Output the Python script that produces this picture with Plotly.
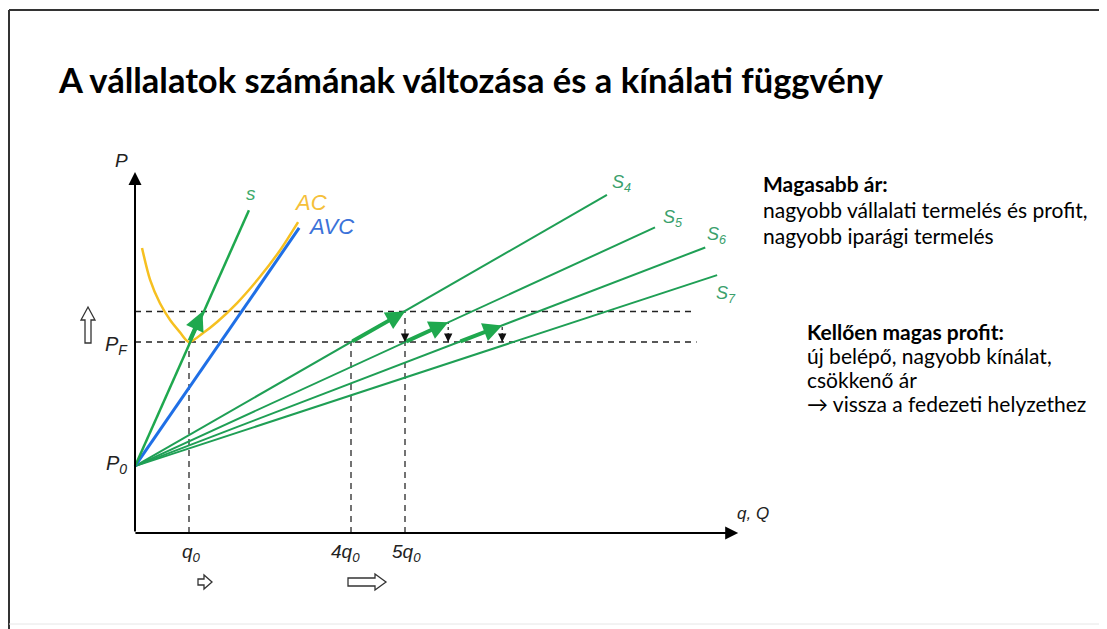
import plotly.graph_objects as go

W, H = 1107, 629
OFF = 8  # page body margin offset of the figure in the window

# ---------------- data (q in units of q0, P in price units) ----------------
P0 = 3.5          # price where supply curves start
PF = 10.0         # break-even price (min AC)
P1 = 11.6         # higher price

q_ticks = [1, 4, 5]
q_tick_labels = ["q<sub>0</sub>", "4q<sub>0</sub>", "5q<sub>0</sub>"]

s_q = [0, 2.11]
s_P = [3.5, 16.9]

avc_q = [0, 3.04]
avc_P = [3.5, 15.97]

ac_q = [0.13, 0.28, 0.46, 0.65, 0.83, 1.0, 1.26, 1.52, 1.89, 2.31, 2.69, 3.02]
ac_P = [14.92, 13.25, 12.04, 11.15, 10.52, 10.0, 10.47, 11.05, 12.04, 13.40, 14.82, 16.28]

S_labels = ["S<sub>4</sub>", "S<sub>5</sub>", "S<sub>6</sub>", "S<sub>7</sub>"]
S_end_q = [8.74, 9.63, 10.56, 10.78]
S_end_P = [17.70, 16.0, 14.95, 13.5]

move_from_q = [1, 4, 5, 6]
move_from_P = [10.0, 10.0, 10.0, 10.0]
move_to_q = [1.25, 5.0, 5.8, 6.8]
move_to_P = [11.6, 11.6, 11.04, 10.87]

drop_q = [5.8, 6.8]
drop_P = [11.04, 10.87]

hline_P = [PF, P1]
hline_end_q = [10.4, 10.33]
vline_q = [1, 4, 5]
vline_top_P = [PF, PF, P1]

axis_q_max = 11.17
axis_P_max = 18.9

# ---------------- colours ----------------
GREEN = "#1f9f55"
GREEN_S = "#1fa84e"
BLUE = "#1f6fe6"
YELLOW = "#f6c020"

# screen pixel -> paper helpers (for decorations / text only)
def px(x):
    return (x - OFF) / W

def py(y):
    return 1 - (y - OFF) / H

fig = go.Figure()

# dashed guide lines
for P, qe in zip(hline_P, hline_end_q):
    fig.add_trace(go.Scatter(x=[0, qe], y=[P, P], mode="lines",
                             line=dict(color="#222222", width=1.5, dash="6px,5px"),
                             hoverinfo="skip", showlegend=False))
for q, Pt in zip(vline_q, vline_top_P):
    fig.add_trace(go.Scatter(x=[q, q], y=[0, Pt], mode="lines",
                             line=dict(color="#444444", width=1.5, dash="6px,5px"),
                             hoverinfo="skip", showlegend=False))
for q, Pt in zip(drop_q, drop_P):
    fig.add_trace(go.Scatter(x=[q, q], y=[PF, Pt], mode="lines",
                             line=dict(color="#222222", width=1.2, dash="3px,3px"),
                             hoverinfo="skip", showlegend=False))

# market supply curves
for qe, Pe in zip(S_end_q, S_end_P):
    fig.add_trace(go.Scatter(x=[0, qe], y=[P0, Pe], mode="lines",
                             line=dict(color=GREEN, width=2),
                             hoverinfo="skip", showlegend=False))

# AC, AVC, s
fig.add_trace(go.Scatter(x=ac_q, y=ac_P, mode="lines",
                         line=dict(color=YELLOW, width=2.5, shape="spline", smoothing=0.8),
                         hoverinfo="skip", showlegend=False))
fig.add_trace(go.Scatter(x=avc_q, y=avc_P, mode="lines",
                         line=dict(color=BLUE, width=3),
                         hoverinfo="skip", showlegend=False))
fig.add_trace(go.Scatter(x=s_q, y=s_P, mode="lines",
                         line=dict(color=GREEN_S, width=2.5),
                         hoverinfo="skip", showlegend=False))

annotations = []

# axes as arrows
annotations.append(dict(x=0, y=axis_P_max, ax=0, ay=0, xref="x", yref="y", axref="x", ayref="y",
                        text="", showarrow=True, arrowhead=2, arrowsize=1.3, arrowwidth=2,
                        arrowcolor="#000000", standoff=0, startstandoff=0))
annotations.append(dict(x=axis_q_max, y=0, ax=-0.02, ay=0, xref="x", yref="y", axref="x", ayref="y",
                        text="", showarrow=True, arrowhead=2, arrowsize=1.3, arrowwidth=2,
                        arrowcolor="#000000", standoff=0, startstandoff=0))

# green movement arrows
for q0_, p0_, q1_, p1_ in zip(move_from_q, move_from_P, move_to_q, move_to_P):
    annotations.append(dict(x=q1_, y=p1_, ax=q0_, ay=p0_, xref="x", yref="y", axref="x", ayref="y",
                            text="", showarrow=True, arrowhead=2, arrowsize=0.95, arrowwidth=4,
                            arrowcolor=GREEN_S, standoff=0))

# small downward arrowheads at PF
for q in [5] + drop_q:
    annotations.append(dict(x=q, y=PF, ax=q, ay=PF + 0.45, xref="x", yref="y", axref="x", ayref="y",
                            text="", showarrow=True, arrowhead=2, arrowsize=1.4, arrowwidth=1.2,
                            arrowcolor="#111111", standoff=0))

DIAG_FONT = "Liberation Sans, Arial, sans-serif"

def label(x, y, text, size, color="#222222", xanchor="center", font=DIAG_FONT):
    annotations.append(dict(x=px(x), y=py(y), xref="paper", yref="paper", text=text,
                            showarrow=False, xanchor=xanchor, yanchor="middle",
                            font=dict(family=font, size=size, color=color)))

# axis labels
label(121, 160, "<i>P</i>", 19)
label(753, 513, "<i>q, Q</i>", 17)
label(116, 345, "<i>P<sub>F</sub></i>", 20)
label(116, 464, "<i>P<sub>0</sub></i>", 20)
for q, t in zip(q_ticks, q_tick_labels):
    annotations.append(dict(x=q, y=py(553), xref="x", yref="paper", text="<i>" + t + "</i>",
                            showarrow=False, xanchor="center", yanchor="middle",
                            xshift=-6 if q == 4 else (2 if q == 1 else 1),
                            font=dict(family=DIAG_FONT, size=19, color="#222222")))

# curve labels
label(251, 194, "<i>s</i>", 19, "#3daa6a")
label(310, 202, "<i>AC</i>", 22, "#f5c03a")
label(331, 226, "<i>AVC</i>", 22, "#3b72d9")
for (x, y), t in zip([(621, 184), (673, 219), (716, 235), (726, 294)], S_labels):
    label(x, y, "<i>" + t + "</i>", 18, "#3a9f6c")

# title
TXT = "Lato, Calibri, sans-serif"
label(56, 79, "<b>A vállalatok számának változása és a kínálati függvény</b>", 34.5, "#000000",
      xanchor="left", font=TXT)

# right text
label(761, 184, "<b>Magasabb ár:</b>", 21, "#000000", "left", TXT)
label(761, 209, "nagyobb vállalati termelés és profit,", 21, "#000000", "left", TXT)
label(761, 235, "nagyobb iparági termelés", 21, "#000000", "left", TXT)
label(805, 331, "<b>Kellően magas profit:</b>", 21, "#000000", "left", TXT)
label(805, 355, "új belépő, nagyobb kínálat,", 21, "#000000", "left", TXT)
label(805, 379, "csökkenő ár", 21, "#000000", "left", TXT)
label(805, 403, "→ vissza a fedezeti helyzethez", 21, "#000000", "left", TXT)

# decorative shapes: slide frame and hollow arrows
shapes = []
shapes.append(dict(type="line", xref="paper", yref="paper", x0=px(9), y0=py(10), x1=1, y1=py(10),
                   line=dict(color="#333333", width=2)))
shapes.append(dict(type="line", xref="paper", yref="paper", x0=px(9), y0=py(10), x1=px(9), y1=0,
                   line=dict(color="#333333", width=2)))
shapes.append(dict(type="line", xref="paper", yref="paper", x0=px(9), y0=py(624), x1=1, y1=py(624),
                   line=dict(color="#e6e6e6", width=1)))

def poly(points):
    return "M " + " L ".join(f"{px(x):.5f},{py(y):.5f}" for x, y in points) + " Z"

# up hollow arrow
shapes.append(dict(type="path", xref="paper", yref="paper", line=dict(color="#333333", width=1.3),
                   path=poly([(85, 343), (85, 320), (81, 320), (88, 307), (95, 320), (91, 320), (91, 343)])))
# small right hollow arrow
shapes.append(dict(type="path", xref="paper", yref="paper", line=dict(color="#333333", width=1.3),
                   path=poly([(198, 579), (204, 579), (204, 575), (212, 582), (204, 589), (204, 585), (198, 585)])))
# large right hollow arrow
shapes.append(dict(type="path", xref="paper", yref="paper", line=dict(color="#333333", width=1.3),
                   path=poly([(348, 578), (375, 578), (375, 574), (386, 582), (375, 590), (375, 586), (348, 586)])))

fig.update_layout(
    width=W, height=H,
    margin=dict(l=0, r=0, t=0, b=0, pad=0),
    paper_bgcolor="white", plot_bgcolor="white",
    xaxis=dict(range=[-(135 - OFF) / 54, (W - 135 + OFF) / 54], visible=False, fixedrange=True),
    yaxis=dict(range=[-(629 - 533 + OFF) / 19.1, (533 - OFF) / 19.1], visible=False, fixedrange=True),
    annotations=annotations,
    shapes=shapes,
    showlegend=False,
)

fig.write_html("out.html")
